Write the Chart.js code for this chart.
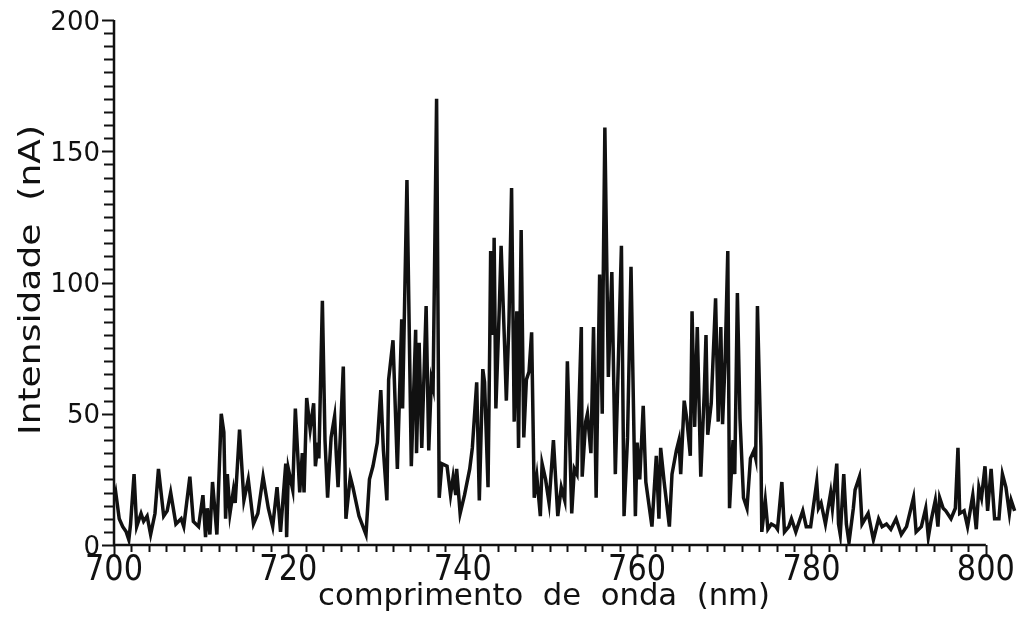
<!DOCTYPE html>
<html>
<head>
<meta charset="utf-8">
<script src="https://cdn.jsdelivr.net/npm/chart.js@4.4.1/dist/chart.umd.min.js"></script>
<style>
  body { margin: 0; background: #fff; }
  #wrap { width: 1019px; height: 618px; position: relative; }
</style>
</head>
<body>
<div id="wrap"><canvas id="spectrum"></canvas></div>
<script>
// comprimento de onda (nm)
const wavelength = [
  700.0, 700.2, 700.6, 701.0, 701.4, 701.7, 701.9, 702.3, 702.6, 703.1,
  703.4, 703.8, 704.2, 704.7, 705.1, 705.7, 706.1, 706.5, 707.1, 707.7,
  708.0, 708.7, 709.1, 709.7, 710.2, 710.5, 710.7, 711.0, 711.3, 711.8,
  712.3, 712.6, 712.8, 713.0, 713.3, 713.7, 713.9, 714.4, 714.9, 715.4,
  716.0, 716.5, 717.1, 717.7, 718.2, 718.7, 719.1, 719.7, 719.8, 720.0,
  720.5, 720.8, 721.3, 721.6, 721.8, 722.1, 722.5, 722.9, 723.1, 723.4,
  723.5, 723.9, 724.2, 724.5, 724.9, 725.3, 725.5, 725.7, 726.3, 726.6,
  727.1, 727.4, 728.1, 728.9, 729.3, 729.7, 730.2, 730.6, 730.9, 731.3,
  731.5, 732.0, 732.5, 733.0, 733.1, 733.6, 734.1, 734.6, 734.7, 735.0,
  735.3, 735.8, 736.1, 736.4, 736.6, 737.0, 737.3, 737.6, 738.2, 738.6,
  738.9, 739.2, 739.3, 739.7, 740.2, 740.8, 741.1, 741.6, 741.9, 742.3,
  742.5, 742.9, 743.1, 743.2, 743.5, 743.6, 743.8, 744.2, 744.4, 744.8,
  745.0, 745.3, 745.6, 745.9, 746.2, 746.4, 746.7, 747.0, 747.3, 747.6,
  747.9, 748.2, 748.5, 748.9, 749.1, 749.5, 749.9, 750.4, 750.9, 751.3,
  751.7, 752.0, 752.5, 752.8, 753.1, 753.6, 753.7, 754.1, 754.3, 754.7,
  755.0, 755.3, 755.7, 756.0, 756.1, 756.3, 756.7, 757.1, 757.5, 757.7,
  758.2, 758.5, 758.9, 759.3, 759.8, 760.0, 760.3, 760.7, 761.0, 761.7,
  762.2, 762.5, 762.7, 763.1, 763.7, 764.0, 764.5, 764.8, 765.0, 765.4,
  765.7, 766.1, 766.3, 766.6, 766.9, 767.3, 767.7, 767.9, 768.1, 768.5,
  769.0, 769.3, 769.6, 769.8, 770.1, 770.4, 770.6, 771.0, 771.2, 771.5,
  771.8, 772.2, 772.6, 773.0, 773.4, 773.6, 773.8, 774.2, 774.3, 774.7,
  775.0, 775.4, 775.9, 776.1, 776.6, 776.9, 777.4, 777.7, 778.2, 779.0,
  779.4, 779.9, 780.6, 780.8, 781.1, 781.6, 782.2, 782.4, 782.9, 783.1,
  783.3, 783.7, 784.0, 784.3, 784.8, 785.0, 785.5, 785.8, 786.5, 787.1,
  787.7, 788.1, 788.6, 789.1, 789.7, 790.3, 790.9, 791.7, 792.0, 792.6,
  793.1, 793.4, 793.7, 794.2, 794.5, 794.7, 795.1, 795.4, 796.0, 796.5,
  796.8, 797.0, 797.5, 797.9, 798.5, 798.9, 799.2, 799.5, 799.9, 800.2,
  800.6, 801.0, 801.5, 801.9, 802.3, 802.7, 802.9, 803.3
];

// Intensidade (nA)
const intensity = [
  17, 20, 10, 7, 5, 2, 8, 27, 7, 12,
  9, 11, 4, 12, 29, 11, 13, 20, 8, 10,
  7, 26, 9, 7, 19, 3, 14, 4, 24, 4,
  50, 43, 10, 27, 12, 21, 16, 44, 17, 25,
  8, 12, 26, 14, 7, 22, 5, 31, 3, 29,
  21, 52, 20, 35, 20, 56, 44, 54, 30, 39,
  33, 93, 40, 18, 41, 49, 34, 22, 68, 10,
  26, 22, 11, 4, 25, 30, 39, 59, 36, 17,
  63, 78, 29, 86, 52, 139, 30, 82, 35, 77,
  37, 91, 36, 63, 60, 170, 18, 31, 30, 19,
  26, 19, 29, 12, 19, 29, 37, 62, 17, 67,
  62, 22, 78, 112, 80, 117, 52, 91, 114, 76,
  55, 85, 136, 47, 89, 37, 120, 41, 63, 66,
  81, 18, 26, 11, 31, 25, 16, 40, 11, 22,
  17, 70, 12, 29, 27, 83, 26, 47, 50, 35,
  83, 18, 103, 50, 97, 159, 64, 104, 27, 52,
  114, 11, 41, 106, 11, 39, 25, 53, 24, 7,
  34, 10, 37, 24, 7, 27, 36, 40, 27, 55,
  48, 34, 89, 45, 83, 26, 58, 80, 42, 54,
  94, 47, 83, 46, 71, 112, 14, 40, 27, 96,
  48, 18, 14, 33, 36, 33, 91, 37, 5, 17,
  6, 8, 7, 6, 24, 5, 7, 10, 5, 13,
  7, 7, 24, 14, 16, 8, 20, 14, 31, 8,
  4, 27, 8, 1, 14, 21, 26, 8, 12, 2,
  10, 7, 8, 6, 10, 4, 7, 18, 5, 7,
  14, 3, 9, 17, 7, 18, 14, 13, 10, 14,
  37, 12, 13, 7, 19, 6, 22, 18, 30, 13,
  29, 10, 10, 27, 22, 12, 17, 13
];

const xTicks = [700, 720, 740, 760, 780, 800];
const yTicks = [0, 50, 100, 150, 200];

const points = wavelength.map((w, i) => ({ x: w, y: intensity[i] }));

// draws text squeezed/stretched to a target width
function fitText(ctx, text, x, y, width, font, align, rotate) {
  ctx.save();
  ctx.font = font;
  const sx = width / ctx.measureText(text).width;
  ctx.translate(x, y);
  if (rotate) ctx.rotate(rotate);
  ctx.scale(sx, 1);
  ctx.textAlign = align;
  ctx.textBaseline = 'alphabetic';
  ctx.fillText(text, 0, 0);
  ctx.restore();
}

const axesPlugin = {
  id: 'axes',
  afterDraw(chart) {
    const ctx = chart.ctx;
    const xs = chart.scales.x;
    const ys = chart.scales.y;
    const x0 = xs.getPixelForValue(700);
    const x1 = xs.getPixelForValue(800);
    const y0 = ys.getPixelForValue(0);
    const y1 = ys.getPixelForValue(200);

    ctx.save();
    ctx.strokeStyle = '#111';
    ctx.fillStyle = '#111';
    ctx.lineCap = 'butt';

    // axis lines
    ctx.lineWidth = 2.5;
    ctx.beginPath();
    ctx.moveTo(x0, y1);
    ctx.lineTo(x0, y0);
    ctx.lineTo(x1, y0);
    ctx.stroke();

    // y ticks every 5
    ctx.lineWidth = 2;
    for (let v = 0; v <= 200; v += 5) {
      const py = Math.round(ys.getPixelForValue(v)) + 0.5;
      const len = v % 50 === 0 ? 12 : 10;
      ctx.beginPath();
      ctx.moveTo(x0 - len, py);
      ctx.lineTo(x0, py);
      ctx.stroke();
    }
    // x ticks every 2
    for (let v = 700; v <= 800; v += 2) {
      const px = Math.round(xs.getPixelForValue(v)) + 0.5;
      const len = v % 20 === 0 ? 11 : 7;
      ctx.beginPath();
      ctx.moveTo(px, y0);
      ctx.lineTo(px, y0 + len);
      ctx.stroke();
    }

    // tick labels
    ctx.font = "26px 'DejaVu Sans'";
    ctx.textAlign = 'right';
    ctx.textBaseline = 'alphabetic';
    yTicks.forEach(v => {
      ctx.fillText(String(v), 100, ys.getPixelForValue(v) + 9.5);
    });
    xTicks.forEach(v => {
      fitText(ctx, String(v), xs.getPixelForValue(v), 580, 58, "36px 'DejaVu Sans'", 'center');
    });

    // axis titles
    fitText(ctx, 'comprimento  de  onda  (nm)', 544, 605, 452, "31px 'DejaVu Sans'", 'center');
    fitText(ctx, 'Intensidade  (nA)', 40, 280, 310, "30px 'DejaVu Sans'", 'center', -Math.PI / 2);
    ctx.restore();
  }
};

const ctx = document.getElementById('spectrum').getContext('2d');
new Chart(ctx, {
  type: 'line',
  data: {
    datasets: [{
      data: points,
      borderColor: '#111',
      borderWidth: 3.5,
      borderJoinStyle: 'miter',
      pointRadius: 0,
      tension: 0,
      fill: false
    }]
  },
  options: {
    responsive: true,
    maintainAspectRatio: false,
    animation: false,
    layout: { padding: { left: 114, right: 0, top: 20, bottom: 73 } },
    plugins: { legend: { display: false }, tooltip: { enabled: false } },
    scales: {
      x: { type: 'linear', min: 700, max: 803.8, display: false },
      y: { min: 0, max: 200, display: false }
    }
  },
  plugins: [axesPlugin]
});
</script>
</body>
</html>
